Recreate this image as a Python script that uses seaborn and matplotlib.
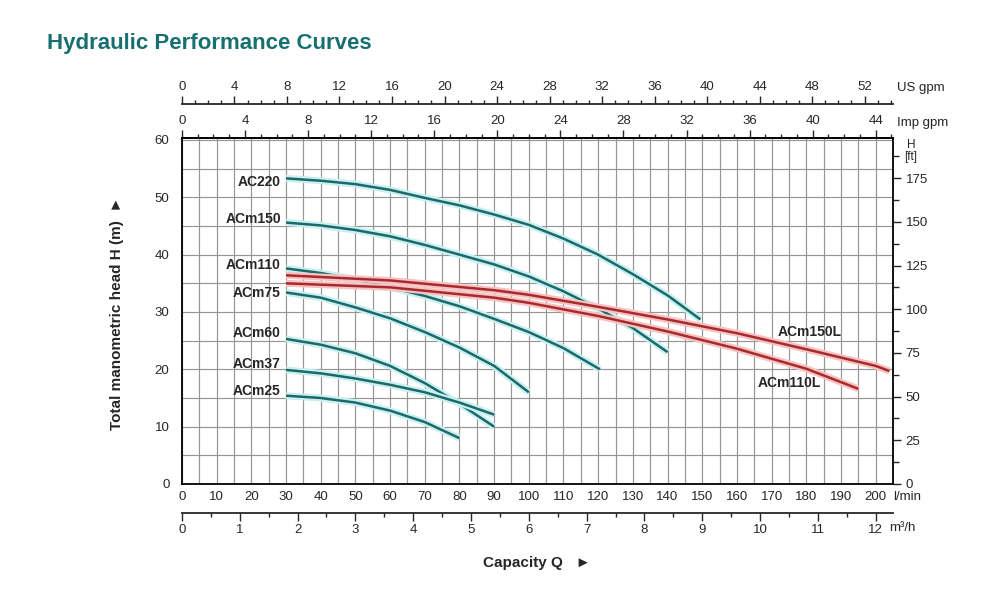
import numpy as np
import pandas as pd
import matplotlib
matplotlib.use('Agg')
import matplotlib.pyplot as plt
from matplotlib.ticker import MultipleLocator, FixedLocator
import seaborn as sns

# Q in l/min, H in m
ac220_q = [30, 40, 50, 60, 70, 80, 90, 100, 110, 120, 130, 140, 149.5]
ac220_h = [53.3, 52.9, 52.3, 51.3, 49.9, 48.6, 47.0, 45.2, 42.8, 40.0, 36.6, 32.9, 28.7]
acm150_q = [30, 40, 50, 60, 70, 80, 90, 100, 110, 120, 130, 140]
acm150_h = [45.6, 45.1, 44.3, 43.2, 41.7, 40.0, 38.3, 36.2, 33.6, 30.6, 27.2, 23.0]
acm110_q = [30, 40, 50, 60, 70, 80, 90, 100, 110, 120.5]
acm110_h = [37.6, 36.8, 35.7, 34.3, 32.8, 31.0, 28.8, 26.5, 23.7, 20.0]
acm75_q = [30, 40, 50, 60, 70, 80, 90, 100]
acm75_h = [33.4, 32.5, 30.8, 28.9, 26.5, 23.8, 20.6, 16.0]
acm60_q = [30, 40, 50, 60, 70, 80, 90]
acm60_h = [25.3, 24.3, 22.8, 20.6, 17.6, 14.0, 10.0]
acm37_q = [30, 40, 50, 60, 70, 80, 90]
acm37_h = [19.9, 19.3, 18.4, 17.3, 16.0, 14.2, 12.1]
acm25_q = [30, 40, 50, 60, 70, 80]
acm25_h = [15.4, 15.0, 14.2, 12.8, 10.8, 8.0]
acm150l_q = [30, 60, 90, 100, 120, 140, 160, 180, 200, 204]
acm150l_h = [36.4, 35.5, 33.8, 33.0, 30.9, 28.7, 26.3, 23.5, 20.6, 19.7]
acm110l_q = [30, 60, 90, 100, 120, 140, 160, 180, 195]
acm110l_h = [35.0, 34.3, 32.5, 31.6, 29.3, 26.6, 23.6, 20.1, 16.6]

teal_models = ['AC220', 'ACm150', 'ACm110', 'ACm75', 'ACm60', 'ACm37', 'ACm25']
red_models = ['ACm150L', 'ACm110L']

TEAL, TEAL_GLOW = '#1d6868', '#c8f0f0'
RED, RED_GLOW = '#a82a2e', '#f6c2c2'
FONT = ['Liberation Sans', 'DejaVu Sans']
QMAX = 205


def build_frame():
    series = {
        'AC220': (ac220_q, ac220_h), 'ACm150': (acm150_q, acm150_h),
        'ACm110': (acm110_q, acm110_h), 'ACm75': (acm75_q, acm75_h),
        'ACm60': (acm60_q, acm60_h), 'ACm37': (acm37_q, acm37_h),
        'ACm25': (acm25_q, acm25_h), 'ACm150L': (acm150l_q, acm150l_h),
        'ACm110L': (acm110l_q, acm110l_h),
    }
    rows = []
    for name, (q, h) in series.items():
        rows += [{'model': name, 'Q': a, 'H': b} for a, b in zip(q, h)]
    return pd.DataFrame(rows)


def fy(px):
    return 1 - px / 601


def fx(px):
    return px / 990


def ticks_upto(top, step):
    # only ticks inside the scale, so no hidden labels hang past the end
    return FixedLocator(np.arange(0, top + 1e-9, step))


def main():
    sns.set_style('white')
    plt.rcParams['font.family'] = FONT
    df = build_frame()

    fig = plt.figure(figsize=(9.9, 6.01), dpi=100)
    ax = fig.add_axes([0.1838, 0.1947, 0.7182, 0.5757])
    ax.set_xlim(0, QMAX)
    ax.set_ylim(0, 60.35)
    ax.xaxis.set_major_locator(ticks_upto(200, 10))
    ax.xaxis.set_minor_locator(MultipleLocator(5))
    ax.yaxis.set_major_locator(ticks_upto(60, 10))
    ax.yaxis.set_minor_locator(MultipleLocator(5))
    ax.grid(which='both', color='#959595', lw=0.85)
    ax.set_axisbelow(True)
    ax.tick_params(which='both', length=0, labelsize=9.5)
    ax.tick_params(axis='x', pad=5)
    ax.tick_params(axis='y', pad=9)
    for s in ax.spines.values():
        s.set_color('black')
        s.set_linewidth(1.3)

    # curves, with a soft halo like the printed sheet
    for models, col, glow in [(teal_models, TEAL, TEAL_GLOW), (red_models, RED, RED_GLOW)]:
        for m in models:
            d = df[df.model == m]
            sns.lineplot(data=d, x='Q', y='H', color=glow, lw=5, sort=False,
                         estimator=None, ax=ax, solid_capstyle='butt')
            sns.lineplot(data=d, x='Q', y='H', color=col, lw=1.8, sort=False,
                         estimator=None, ax=ax, solid_capstyle='butt')
    ax.set_xlabel('')
    ax.set_ylabel('')

    label_pos = {'AC220': (28.5, 52.7), 'ACm150': (28.5, 46.2), 'ACm110': (28.5, 38.2),
                 'ACm75': (28.5, 33.3), 'ACm60': (28.5, 26.3), 'ACm37': (28.5, 20.9),
                 'ACm25': (28.5, 16.2)}
    for m, (x, y) in label_pos.items():
        ax.text(x, y, m, ha='right', va='center', fontsize=10, weight='bold')
    ax.text(181, 26.5, 'ACm150L', ha='center', va='center', fontsize=10, weight='bold')
    ax.text(175, 17.6, 'ACm110L', ha='center', va='center', fontsize=10, weight='bold')

    # head in feet on the right
    axr = ax.twinx()
    axr.set_ylim(0, 60.35 * 3.28084)
    axr.yaxis.set_major_locator(ticks_upto(175, 25))
    axr.yaxis.set_minor_locator(ticks_upto(195, 12.5))
    axr.tick_params(which='major', direction='out', length=6, width=1, labelsize=9.5, pad=3)
    axr.tick_params(which='minor', direction='out', length=4, width=1)
    axr.grid(False)
    for s in axr.spines.values():
        s.set_visible(False)

    # extra flow scales
    imp = ax.secondary_xaxis('top', functions=(lambda q: q / 4.546, lambda g: g * 4.546))
    us = ax.secondary_xaxis(1.098, functions=(lambda q: q / 3.785, lambda g: g * 3.785))
    m3h = ax.secondary_xaxis(-0.0838, functions=(lambda q: q * 0.06, lambda v: v / 0.06))
    for sec, factor, major, minor in [(imp, 1 / 4.546, 4, 1), (us, 1 / 3.785, 4, 1),
                                      (m3h, 0.06, 1, 0.5)]:
        top = QMAX * factor
        sec.xaxis.set_major_locator(ticks_upto(top, major))
        sec.xaxis.set_minor_locator(ticks_upto(top, minor))
        sec.tick_params(which='major', direction='out', length=6, width=1, labelsize=9.5, pad=2)
        sec.tick_params(which='minor', direction='out', length=3, width=1)
        for s in sec.spines.values():
            s.set_linewidth(1.3)

    fig.text(fx(893), fy(497), 'l/min', ha='left', va='center', fontsize=9.5)
    fig.text(fx(889), fy(528), 'm³/h', ha='left', va='center', fontsize=9.5)
    fig.text(fx(897), fy(88), 'US gpm', ha='left', va='center', fontsize=9.5)
    fig.text(fx(897), fy(123), 'Imp gpm', ha='left', va='center', fontsize=9.5)
    fig.text(fx(911), fy(151), 'H\n[ft]', ha='center', va='center', fontsize=8.5, linespacing=0.95)

    fig.text(fx(47), fy(43), 'Hydraulic Performance Curves', ha='left', va='center',
             fontsize=16, weight='bold', color='#17706f')
    fig.text(fx(117), fy(313), 'Total manometric head H (m)  ►', rotation=90,
             ha='center', va='center', fontsize=11, weight='bold')
    fig.text(fx(537), fy(563), 'Capacity Q   ►', ha='center', va='center',
             fontsize=11, weight='bold')

    fig.savefig('out.png', dpi=100, facecolor='white')


if __name__ == '__main__':
    main()
